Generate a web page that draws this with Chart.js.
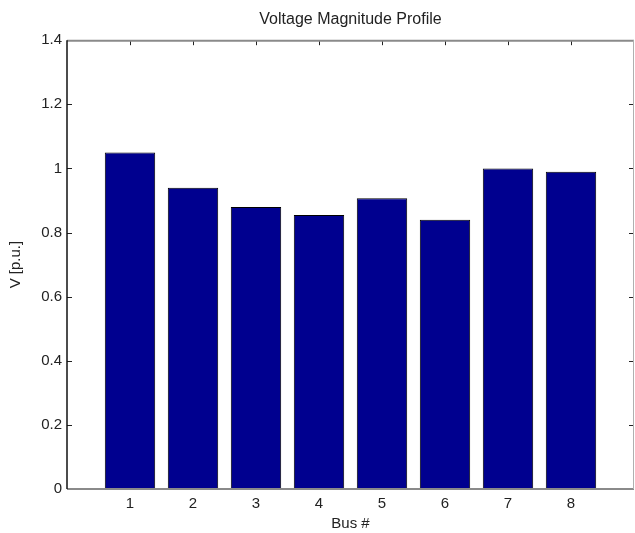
<!DOCTYPE html>
<html>
<head>
<meta charset="utf-8">
<script src="https://cdn.jsdelivr.net/npm/chart.js@4.4.1/dist/chart.umd.min.js"></script>
<style>
  html, body { margin: 0; padding: 0; background: #ffffff; }
  #wrap { position: relative; width: 635px; height: 533px; }
</style>
</head>
<body>
<div id="wrap"><canvas id="c" width="635" height="533"></canvas></div>
<script>
// ---- data ----
const busNumbers = [1, 2, 3, 4, 5, 6, 7, 8];
const voltageMagnitudes = [1.05, 0.94, 0.88, 0.855, 0.907, 0.84, 1.0, 0.99];
const yTickValues = [0, 0.2, 0.4, 0.6, 0.8, 1, 1.2, 1.4];
const chartTitle = 'Voltage Magnitude Profile';
const xAxisLabel = 'Bus #';
const yAxisLabel = 'V [p.u.]';

const FONT = '"Liberation Sans", Arial, Helvetica, sans-serif';

const points = busNumbers.map((b, i) => ({ x: b, y: voltageMagnitudes[i] }));

// inward ticks + box frame (MATLAB style), positioned via the chart's own scales
const framePlugin = {
  id: 'frame',
  afterDatasetsDraw(chart) {
    const { ctx, chartArea: a, scales: { x, y } } = chart;
    ctx.save();
    const L = 5;
    ctx.strokeStyle = '#222';
    ctx.lineWidth = 1;
    ctx.beginPath();
    busNumbers.forEach(b => {
      const px = Math.round(x.getPixelForValue(b)) + 0.5;
      ctx.moveTo(px, a.top); ctx.lineTo(px, a.top + L);
    });
    yTickValues.forEach(v => {
      const py = Math.round(y.getPixelForValue(v)) + 0.5;
      ctx.moveTo(a.left, py); ctx.lineTo(a.left + L, py);
      ctx.moveTo(a.right, py); ctx.lineTo(a.right - L, py);
    });
    ctx.stroke();
    ctx.strokeStyle = '#8a8a8a';
    ctx.lineWidth = 2;
    ctx.beginPath();
    ctx.moveTo(a.left, a.top + 0.5); ctx.lineTo(a.right, a.top + 0.5);
    ctx.moveTo(a.left, a.bottom); ctx.lineTo(a.right, a.bottom);
    ctx.stroke();
    ctx.strokeStyle = '#b0b0b0';
    ctx.lineWidth = 1;
    ctx.beginPath();
    ctx.moveTo(a.right - 0.5, a.top); ctx.lineTo(a.right - 0.5, a.bottom);
    ctx.stroke();
    ctx.strokeStyle = '#111';
    ctx.lineWidth = 1.5;
    ctx.beginPath();
    ctx.moveTo(a.left, a.top); ctx.lineTo(a.left, a.bottom);
    ctx.stroke();
    ctx.restore();
  }
};

new Chart(document.getElementById('c'), {
  type: 'bar',
  data: {
    datasets: [{
      data: points,
      backgroundColor: '#00008f',
      borderColor: '#000',
      borderWidth: 1,
      barPercentage: 0.8,
      categoryPercentage: 1.0
    }]
  },
  options: {
    responsive: false,
    animation: false,
    devicePixelRatio: 1,
    layout: { padding: { left: 0, right: 1, top: 0, bottom: 0 } },
    plugins: {
      legend: { display: false },
      tooltip: { enabled: false },
      title: {
        display: true,
        fullSize: false,
        text: chartTitle,
        color: '#222',
        font: { family: FONT, size: 16, weight: 'normal' },
        padding: { top: 10, bottom: 11 }
      }
    },
    scales: {
      x: {
        type: 'linear',
        min: 0,
        max: 9,
        offset: false,
        grid: { display: false, drawTicks: false },
        border: { display: false },
        ticks: {
          stepSize: 1,
          padding: 6,
          color: '#222',
          font: { family: FONT, size: 15 },
          maxRotation: 0,
          callback: (v) => (busNumbers.includes(v) ? String(v) : '')
        },
        title: {
          display: true,
          text: xAxisLabel,
          color: '#222',
          font: { family: FONT, size: 15 },
          padding: { top: 0, bottom: 0 }
        },
        afterFit: (s) => { s.height = 44; s.paddingLeft = 0; s.paddingRight = 0; }
      },
      y: {
        min: 0,
        max: 1.4,
        grid: { display: false, drawTicks: false },
        border: { display: false },
        afterBuildTicks: (s) => { s.ticks = yTickValues.map(v => ({ value: v })); },
        ticks: {
          padding: 5,
          color: '#222',
          font: { family: FONT, size: 15 },
          callback: (v) => String(Math.round(v * 10) / 10)
        },
        title: {
          display: true,
          text: yAxisLabel,
          color: '#222',
          font: { family: FONT, size: 15 },
          padding: { top: 7, bottom: 0 }
        },
        afterFit: (s) => { s.width = 67; s.paddingTop = 0; s.paddingBottom = 0; }
      }
    }
  },
  plugins: [framePlugin]
});
</script>
</body>
</html>
